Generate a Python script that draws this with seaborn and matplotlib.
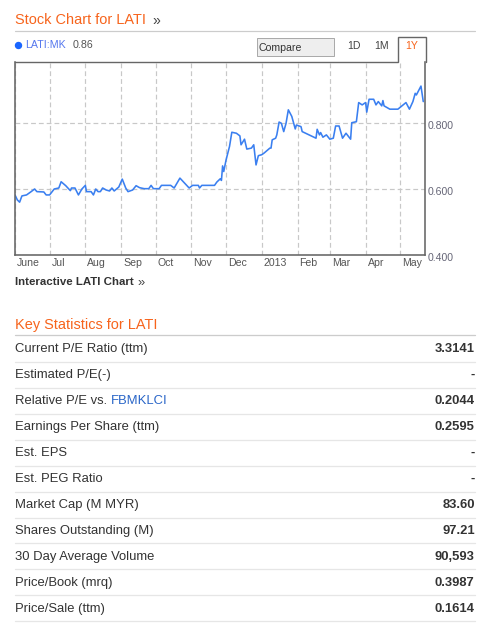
import numpy as np
import pandas as pd
import matplotlib
matplotlib.use("Agg")
import matplotlib.pyplot as plt
import seaborn as sns
from matplotlib.transforms import ScaledTranslation
from matplotlib.lines import Line2D
from matplotlib.patches import Rectangle

# ---------------- data ----------------
dates = ["2012-06-01", "2012-06-03", "2012-06-05", "2012-06-07", "2012-06-11", "2012-06-15",
         "2012-06-18", "2012-06-20", "2012-06-26", "2012-06-28", "2012-07-01", "2012-07-05",
         "2012-07-09", "2012-07-11", "2012-07-15", "2012-07-19", "2012-07-20", "2012-07-23",
         "2012-07-26", "2012-07-29", "2012-08-01", "2012-08-02", "2012-08-06", "2012-08-08",
         "2012-08-10", "2012-08-12", "2012-08-14", "2012-08-16", "2012-08-19", "2012-08-22",
         "2012-08-24", "2012-08-26", "2012-08-30", "2012-09-02", "2012-09-05", "2012-09-07",
         "2012-09-11", "2012-09-14", "2012-09-17", "2012-09-21", "2012-09-25", "2012-09-27",
         "2012-09-29", "2012-10-04", "2012-10-06", "2012-10-14", "2012-10-17", "2012-10-22",
         "2012-10-26", "2012-10-30", "2012-11-02", "2012-11-07", "2012-11-08", "2012-11-10",
         "2012-11-21", "2012-11-23", "2012-11-26", "2012-11-27", "2012-11-28", "2012-11-29",
         "2012-12-01", "2012-12-04", "2012-12-06", "2012-12-10", "2012-12-13", "2012-12-14",
         "2012-12-17", "2012-12-19", "2012-12-23", "2012-12-25", "2012-12-27", "2012-12-29",
         "2013-01-01", "2013-01-03", "2013-01-08", "2013-01-09", "2013-01-10", "2013-01-13",
         "2013-01-14", "2013-01-16", "2013-01-18", "2013-01-20", "2013-01-22", "2013-01-24",
         "2013-01-27", "2013-01-30", "2013-01-31", "2013-02-04", "2013-02-05", "2013-02-11",
         "2013-02-17", "2013-02-18", "2013-02-20", "2013-02-21", "2013-02-23", "2013-02-26",
         "2013-03-01", "2013-03-04", "2013-03-06", "2013-03-09", "2013-03-12", "2013-03-15",
         "2013-03-19", "2013-03-20", "2013-03-24", "2013-03-26", "2013-03-29", "2013-04-01",
         "2013-04-02", "2013-04-04", "2013-04-08", "2013-04-10", "2013-04-12", "2013-04-15",
         "2013-04-16", "2013-04-17", "2013-04-22", "2013-04-29", "2013-05-06", "2013-05-09",
         "2013-05-12", "2013-05-14", "2013-05-15", "2013-05-19", "2013-05-21"]
prices = [0.583, 0.568, 0.561, 0.580, 0.583, 0.593,
          0.601, 0.593, 0.592, 0.583, 0.583, 0.601,
          0.604, 0.623, 0.611, 0.596, 0.604, 0.604,
          0.583, 0.601, 0.612, 0.593, 0.593, 0.583,
          0.601, 0.593, 0.593, 0.604, 0.598, 0.595,
          0.604, 0.595, 0.607, 0.631, 0.604, 0.593,
          0.598, 0.611, 0.605, 0.602, 0.602, 0.612,
          0.602, 0.602, 0.612, 0.612, 0.604, 0.634,
          0.619, 0.604, 0.612, 0.612, 0.604, 0.612,
          0.612, 0.622, 0.632, 0.627, 0.671, 0.654,
          0.689, 0.730, 0.773, 0.770, 0.762, 0.735,
          0.752, 0.722, 0.725, 0.735, 0.674, 0.702,
          0.705, 0.710, 0.725, 0.725, 0.750, 0.755,
          0.765, 0.804, 0.800, 0.775, 0.800, 0.841,
          0.821, 0.783, 0.795, 0.790, 0.775, 0.765,
          0.755, 0.782, 0.765, 0.772, 0.758, 0.765,
          0.752, 0.755, 0.792, 0.792, 0.755, 0.770,
          0.752, 0.802, 0.805, 0.863, 0.856, 0.863,
          0.834, 0.873, 0.873, 0.856, 0.866, 0.853,
          0.869, 0.853, 0.843, 0.843, 0.863, 0.843,
          0.866, 0.891, 0.886, 0.913, 0.866]

month_ticks = ["2012-06-01", "2012-07-01", "2012-08-01", "2012-09-01", "2012-10-01",
               "2012-11-01", "2012-12-01", "2013-01-01", "2013-02-01", "2013-03-01",
               "2013-04-01", "2013-05-01"]
month_labels = ["June", "Jul", "Aug", "Sep", "Oct", "Nov", "Dec", "2013", "Feb", "Mar",
                "Apr", "May"]
y_ticks = [0.4, 0.6, 0.8]
y_labels = ["0.400", "0.600", "0.800"]

ticker = "LATI:MK"
last_price = "0.86"
ranges = ["1D", "1M", "1Y"]

stat_names = ["Current P/E Ratio (ttm)", "Estimated P/E(-)", "Relative P/E vs. ",
              "Earnings Per Share (ttm)", "Est. EPS", "Est. PEG Ratio", "Market Cap (M MYR)",
              "Shares Outstanding (M)", "30 Day Average Volume", "Price/Book (mrq)",
              "Price/Sale (ttm)"]
stat_values = ["3.3141", "-", "0.2044", "0.2595", "-", "-", "83.60", "97.21", "90,593",
               "0.3987", "0.1614"]

# ---------------- style ----------------
sns.set_style("white")
plt.rcParams['font.family'] = ['Liberation Sans', 'DejaVu Sans']

W, H = 489, 625
DPI = 100
ORANGE = "#f7641c"
BLUE = "#3a7ff0"
DARK = "#333333"


def fx(x):
    return x / W


def fy(y):
    return 1 - y / H


def pt(px):
    return px * 72.0 / DPI


fig = plt.figure(figsize=(W / DPI, H / DPI), dpi=DPI)
fig.patch.set_facecolor("white")

# ---------------- chart axes ----------------
ax_l, ax_r, ax_t, ax_b = 15, 425, 62, 255.3
ax = fig.add_axes([fx(ax_l), fy(ax_b), (ax_r - ax_l) / W, (ax_b - ax_t) / H])

df = pd.DataFrame({"date": pd.to_datetime(dates), "price": prices})
sns.lineplot(data=df, x="date", y="price", ax=ax, color=BLUE, linewidth=pt(1.6))

ax.set_xlim(pd.Timestamp("2012-06-01"), pd.Timestamp("2013-05-22 12:00"))
ax.set_ylim(0.4, 0.986)
ax.set_xlabel("")
ax.set_ylabel("")

ax.set_xticks(pd.to_datetime(month_ticks))
ax.set_xticklabels(month_labels)
ax.set_yticks(y_ticks)
ax.set_yticklabels(y_labels)
ax.yaxis.tick_right()
ax.tick_params(axis="x", length=0, pad=pt(2.5), labelsize=pt(10.5), labelcolor="#555555")
ax.tick_params(axis="y", length=0, pad=pt(2.5), labelsize=pt(10.5), labelcolor="#666677")
for lab in ax.get_xticklabels():
    lab.set_horizontalalignment("left")
    lab.set_transform(lab.get_transform() + ScaledTranslation(2 / DPI, 0, fig.dpi_scale_trans))
for lab in ax.get_yticklabels():
    lab.set_transform(lab.get_transform() + ScaledTranslation(0, -2 / DPI, fig.dpi_scale_trans))

ax.grid(True, color="#c8c8c8", linewidth=pt(1.2), linestyle=(0, (4, 2.5)))
ax.set_axisbelow(True)
for side in ["left", "bottom", "right"]:
    ax.spines[side].set_color("#666666")
    ax.spines[side].set_linewidth(pt(1.6))
ax.spines["top"].set_visible(False)

# top border of chart + 1Y tab
fig.add_artist(Line2D([fx(ax_l), fx(398), fx(398), fx(425.6), fx(425.6)],
                      [fy(62), fy(62), fy(37.3), fy(37.3), fy(62)],
                      transform=fig.transFigure, color="#666666", linewidth=pt(1.4),
                      solid_joinstyle="miter"))

# ---------------- header ----------------
fig.text(fx(15), fy(20.5), "Stock Chart for LATI", color=ORANGE, fontsize=pt(14.5),
         ha="left", va="center")
fig.text(fx(152), fy(21.5), "»", color="#444444", fontsize=pt(14), ha="left", va="center")
fig.add_artist(Line2D([fx(15), fx(474.7)], [fy(31.3), fy(31.3)], transform=fig.transFigure,
                      color="#cccccc", linewidth=pt(1.2)))

# legend row
fig.add_artist(Line2D([fx(18.5)], [fy(44.5)], transform=fig.transFigure, marker="o",
                      markersize=pt(6), color="#1a66ff", linestyle="none"))
fig.text(fx(25.3), fy(45), ticker, color="#5577ee", fontsize=pt(10.6), ha="left", va="center")
fig.text(fx(73), fy(45), last_price, color="#555555", fontsize=pt(10.6), ha="left", va="center")

fig.add_artist(Rectangle((fx(257), fy(56)), (333.7 - 257) / W, (56 - 38.3) / H,
                         transform=fig.transFigure, facecolor="#eeeeee", edgecolor="#aaaaaa",
                         linewidth=pt(1)))
fig.text(fx(258.5), fy(47.8), "Compare", color=DARK, fontsize=pt(10.5), ha="left", va="center")
for lab, cx, col in zip(ranges, [354, 382, 412], ["#444444", "#444444", ORANGE]):
    fig.text(fx(cx), fy(46), lab, color=col, fontsize=pt(10.5), ha="center", va="center")

# interactive link
fig.text(fx(15), fy(282), "Interactive LATI Chart", color=DARK, fontsize=pt(11.5),
         fontweight="bold", ha="left", va="center")
fig.text(fx(137.5), fy(283), "»", color="#444444", fontsize=pt(13), ha="left", va="center")

# ---------------- key statistics ----------------
fig.text(fx(15), fy(324.5), "Key Statistics for LATI", color=ORANGE, fontsize=pt(14.5),
         ha="left", va="center")
fig.add_artist(Line2D([fx(15), fx(474.7)], [fy(335), fy(335)], transform=fig.transFigure,
                      color="#cccccc", linewidth=pt(1.3)))

renderer = fig.canvas.get_renderer()
row0, step = 349.2, 25.95
for i, (name, val) in enumerate(zip(stat_names, stat_values)):
    yc = row0 + step * i
    t = fig.text(fx(15), fy(yc), name, color=DARK, fontsize=pt(13), ha="left", va="center")
    if name.startswith("Relative"):
        bb = t.get_window_extent(renderer=renderer)
        fig.text(bb.x1 / W, fy(yc), "FBMKLCI", color="#2a66c8", fontsize=pt(13),
                 ha="left", va="center")
    fig.text(fx(474.7), fy(yc), val, color=DARK, fontsize=pt(13), fontweight="bold",
             ha="right", va="center")
    ys = 361.8 + step * i
    fig.add_artist(Line2D([fx(15), fx(474.7)], [fy(ys), fy(ys)], transform=fig.transFigure,
                          color="#e6e6e6", linewidth=pt(1.3)))

fig.savefig("out.png", dpi=DPI, facecolor="white")
